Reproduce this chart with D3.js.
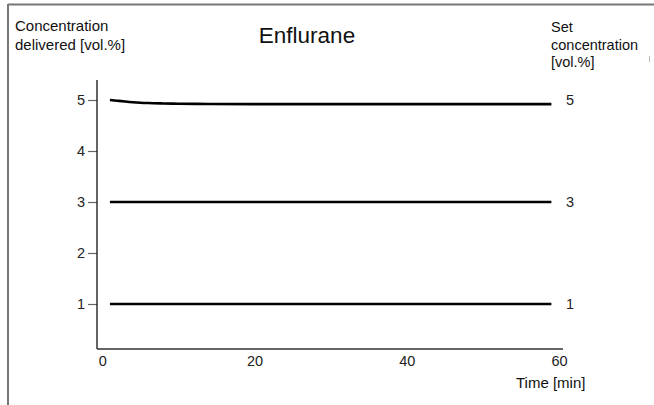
<!DOCTYPE html>
<html><head><meta charset="utf-8">
<script src="https://cdn.jsdelivr.net/npm/d3@7/dist/d3.min.js"></script>
<style>
body{margin:0;background:#fff;}
svg{display:block;font-family:"Liberation Sans",Arial,Helvetica,sans-serif;}
</style></head>
<body><svg id="c" width="654" height="405"></svg>
<script>
// data
const timeMin = [1, 2, 3, 4, 5, 6, 8, 10, 14, 20, 30, 40, 50, 59];
const delivered5 = [5.0, 4.985, 4.97, 4.957, 4.947, 4.94, 4.932, 4.927, 4.923, 4.92, 4.92, 4.92, 4.92, 4.92];
const delivered3 = [3, 3, 3, 3, 3, 3, 3, 3, 3, 3, 3, 3, 3, 3];
const delivered1 = [1, 1, 1, 1, 1, 1, 1, 1, 1, 1, 1, 1, 1, 1];
const setLabels = ["5", "3", "1"];
const setValues = [5, 3, 1];
const yTicks = [1, 2, 3, 4, 5];
const xTicks = [0, 20, 40, 60];

const svg = d3.select("#c");
const x = d3.scaleLinear().domain([0, 60]).range([102.3, 559]);
const y = d3.scaleLinear().domain([1, 5]).range([304, 100]);
const axisX0 = 97, axisY0 = 349;
const FONT = "Liberation Sans, Arial, sans-serif";

// frame
svg.append("line").attr("x1", 8).attr("x2", 654).attr("y1", 4.5).attr("y2", 4.5)
  .attr("stroke", "#777").attr("stroke-width", 2);
svg.append("line").attr("x1", 8).attr("x2", 8).attr("y1", 4).attr("y2", 405)
  .attr("stroke", "#777").attr("stroke-width", 2);

// y axis
const gy = svg.append("g").attr("transform", `translate(${axisX0},0)`)
  .call(d3.axisLeft(y).tickValues(yTicks).tickSize(9).tickPadding(3).tickFormat(d3.format("d")));
gy.select(".domain").remove();
gy.selectAll(".tick line").attr("stroke", "#666").attr("stroke-width", 1.2);
gy.selectAll(".tick text").attr("font-size", 14.5).attr("fill", "#222").attr("font-family", FONT);
svg.append("line").attr("x1", axisX0).attr("x2", axisX0).attr("y1", 80).attr("y2", axisY0)
  .attr("stroke", "#111").attr("stroke-width", 1.3);

// x axis
const gx = svg.append("g").attr("transform", `translate(0,${axisY0})`)
  .call(d3.axisBottom(x).tickValues(xTicks).tickSize(0).tickPadding(7).tickFormat(d3.format("d")));
gx.select(".domain").remove();
gx.selectAll(".tick text").attr("font-size", 14.5).attr("fill", "#222").attr("font-family", FONT);
svg.append("line").attr("x1", axisX0).attr("x2", 563).attr("y1", axisY0).attr("y2", axisY0)
  .attr("stroke", "#333").attr("stroke-width", 1.3);

// series
const line = d3.line().x((d, i) => x(timeMin[i])).y(d => y(d)).curve(d3.curveMonotoneX);
[delivered5, delivered3, delivered1].forEach(s => {
  svg.append("path").attr("d", line(s)).attr("fill", "none")
    .attr("stroke", "#000").attr("stroke-width", 2.6);
});

// set concentration labels on right
setValues.forEach((v, i) => {
  svg.append("text").attr("x", 566).attr("y", y(v)).attr("dy", "0.36em")
    .attr("font-size", 14.5).attr("fill", "#222").text(setLabels[i]);
});

// titles
svg.append("text").attr("x", 307).attr("y", 43).attr("text-anchor", "middle")
  .attr("font-size", 22.5).attr("fill", "#111").text("Enflurane");
svg.append("text").attr("x", 15).attr("y", 31).attr("font-size", 15).attr("fill", "#111").text("Concentration");
svg.append("text").attr("x", 15).attr("y", 50).attr("font-size", 15).attr("fill", "#111").text("delivered [vol.%]");
svg.append("text").attr("x", 551).attr("y", 32).attr("font-size", 14.5).attr("fill", "#111").text("Set");
svg.append("text").attr("x", 551).attr("y", 50).attr("font-size", 14.5).attr("fill", "#111").text("concentration");
svg.append("text").attr("x", 551).attr("y", 67).attr("font-size", 14.5).attr("fill", "#111").text("[vol.%]");
svg.append("line").attr("x1", 649.5).attr("x2", 649.5).attr("y1", 56).attr("y2", 62)
  .attr("stroke", "#bbb").attr("stroke-width", 1);
svg.append("text").attr("x", 516).attr("y", 388).attr("font-size", 15).attr("fill", "#111").text("Time [min]");
</script></body></html>
